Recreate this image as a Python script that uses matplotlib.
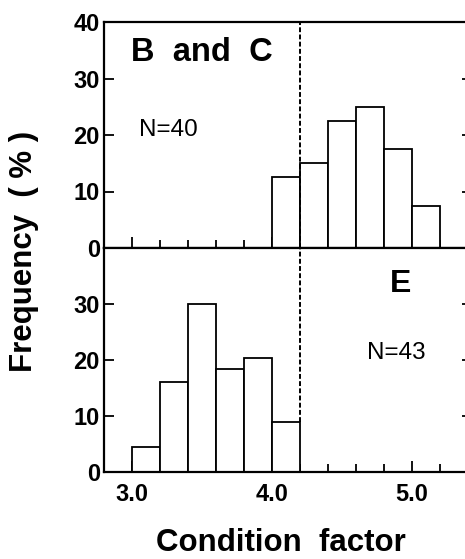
import matplotlib
matplotlib.use("Agg")
import matplotlib.pyplot as plt
import numpy as np

plt.rcParams['font.family'] = ['Liberation Sans', 'DejaVu Sans']

# Data
bin_width = 0.2
top_left_edges = [4.0, 4.2, 4.4, 4.6, 4.8, 5.0]
top_freq = [12.5, 15.0, 22.5, 25.0, 17.5, 7.5]          # B and C, N=40
bot_left_edges = [3.0, 3.2, 3.4, 3.6, 3.8, 4.0]
bot_freq = [4.4, 16.0, 30.0, 18.4, 20.4, 8.9]           # E, N=43
threshold = 4.2
x_major = [3.0, 4.0, 5.0]
x_major_labels = ["3.0", "4.0", "5.0"]
x_minor = [3.2, 3.4, 3.6, 3.8, 4.2, 4.4, 4.6, 4.8, 5.2]
top_yticks = [0, 10, 20, 30, 40]
bot_yticks = [0, 10, 20, 30]

W, H = 465, 559
fig = plt.figure(figsize=(W / 100, H / 100), dpi=100)

left = 104 / W
x_left, x_right = 2.8, 2.8 + 368 / 140
width = 368 / W
ax_top = fig.add_axes([left, 1 - 248 / H, width, 226 / H])
ax_bot = fig.add_axes([left, 1 - 472 / H, width, 224 / H])

spine_lw = 1.6
bar_lw = 1.3

for ax in (ax_top, ax_bot):
    ax.set_xlim(x_left, x_right)
    ax.set_ylim(0, 40)
    for s in ax.spines.values():
        s.set_linewidth(spine_lw)
    ax.set_xticks(x_major)
    ax.set_xticks(x_minor, minor=True)
    ax.tick_params(axis='x', which='major', direction='in', length=8, width=1.3,
                   top=False, bottom=True, labelsize=17, pad=8)
    ax.tick_params(axis='x', which='minor', direction='in', length=6, width=1.3,
                   top=False, bottom=True)
    ax.tick_params(axis='y', which='major', direction='in', length=7, width=1.3,
                   left=True, right=True, labelsize=17, pad=3)

# Top panel
ax_top.bar(top_left_edges, top_freq, width=bin_width, align='edge',
           facecolor='white', edgecolor='black', linewidth=bar_lw, zorder=2)
ax_top.axvline(threshold, ymin=0, ymax=1, color='black', linestyle=(0, (2.5, 1.2)),
               linewidth=1.4, zorder=3, clip_on=False)
ax_top.set_yticks(top_yticks)
ax_top.set_yticklabels([str(v) for v in top_yticks], fontweight='bold', fontsize=17)
ax_top.set_xticklabels([])
ax_top.text(2.99, 34.6, "B  and  C", fontsize=23.5, fontweight='bold', va='center', ha='left')
ax_top.text(3.05, 20.9, "N=40", fontsize=17.5, va='center', ha='left')

# Bottom panel
ax_bot.bar(bot_left_edges, bot_freq, width=bin_width, align='edge',
           facecolor='white', edgecolor='black', linewidth=bar_lw, zorder=2)
ax_bot.plot([threshold, threshold], [bot_freq[-1], 40], color='black',
            linestyle=(0, (2.5, 1.2)), linewidth=1.4, zorder=3)
ax_bot.set_yticks(bot_yticks)
ax_bot.set_yticklabels([str(v) for v in bot_yticks], fontweight='bold', fontsize=17)
ax_bot.set_xticklabels(x_major_labels, fontweight='bold', fontsize=17)
ax_bot.text(4.92, 33.6, "E", fontsize=23, fontweight='bold', va='center', ha='center')
ax_bot.text(4.68, 21.2, "N=43", fontsize=17.5, va='center', ha='left')

fig.text(24 / W, 1 - 251 / H, "Frequency  ( % )", rotation=90, fontsize=22.5,
         fontweight='bold', ha='center', va='center')
fig.text(281 / W, 1 - 543 / H, "Condition  factor", fontsize=22.5,
         fontweight='bold', ha='center', va='center')

fig.savefig("out.png", dpi=100)
